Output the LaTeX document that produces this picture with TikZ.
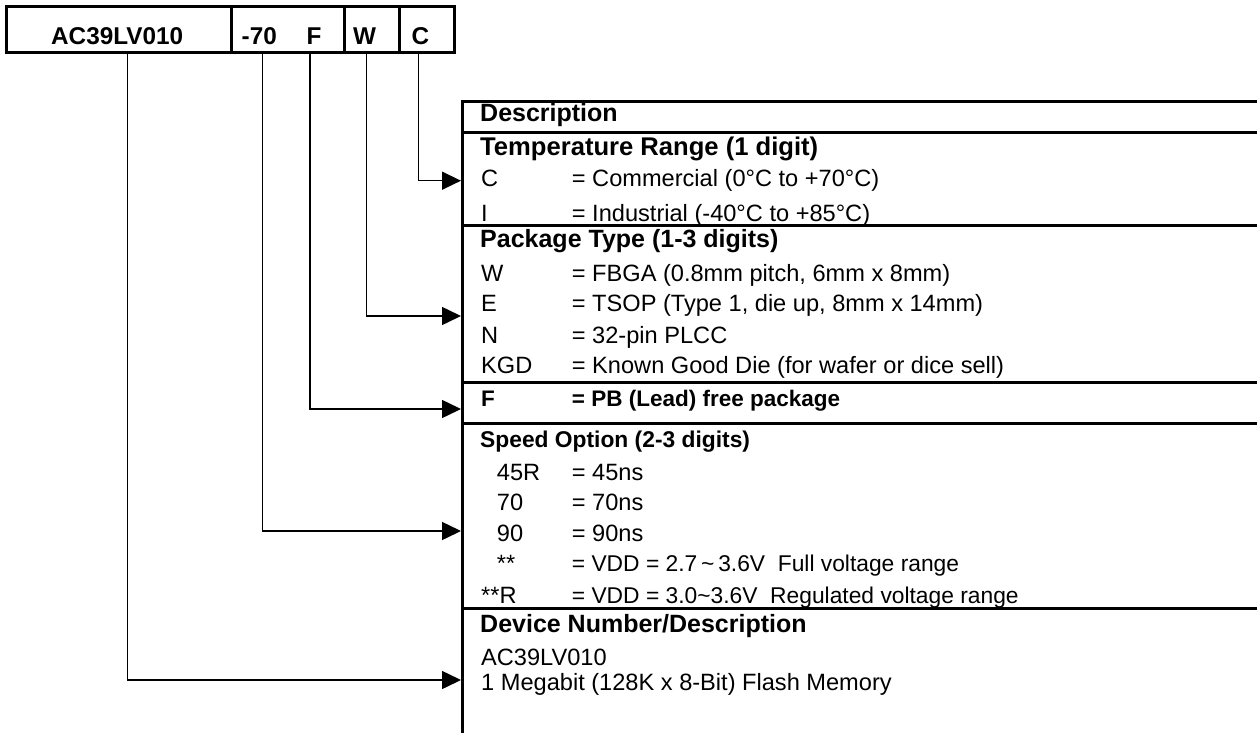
\documentclass[tikz,border=0pt]{standalone}
\usepackage{fontspec}
\setmainfont{Liberation Sans}
\usetikzlibrary{arrows.meta}
\newcommand\myreg{\fontsize{23.6}{28}\selectfont}
\newcommand\myregs{\fontsize{22.8}{27}\selectfont}
\newcommand\myhead{\fontsize{25}{30}\selectfont\bfseries}
\newcommand\myspeed{\fontsize{22.8}{27}\selectfont\bfseries}
\newcommand\mybrow{\fontsize{22.5}{27}\selectfont\bfseries}
\newcommand\mytop{\fontsize{24.3}{29}\selectfont\bfseries}
\begin{document}
\begin{tikzpicture}[x=1pt,y=-1pt,
  cell/.style={draw, line width=3pt, minimum height=46pt, inner sep=0pt, anchor=north west},
  tl/.style={anchor=base west, inner sep=0pt, font=\myreg},
  hd/.style={anchor=base west, inner sep=0pt, font=\myhead},
  rule/.style={line width=3pt},
  conn/.style={line width=1.5pt, -{Triangle[length=19pt,width=18pt]}}]
\useasboundingbox (0,0) rectangle (1257,733);

% top part-number box
\node[cell, minimum width=225pt] (cellA) at (5,5) {};
\node[cell, minimum width=113pt] (cellB) at (230,5) {};
\node[cell, minimum width=55pt] (cellC) at (343,5) {};
\node[cell, minimum width=55pt] (cellD) at (398,5) {};
\node[anchor=base west, inner sep=0pt, font=\mytop] (tAC) at (51,45) {AC39LV010};
\node[anchor=base west, inner sep=0pt, font=\mytop] (t70) at (241.5,45) {-70};
\node[anchor=base west, inner sep=0pt, font=\mytop] (tF) at (306.5,45) {F};
\node[anchor=base west, inner sep=0pt, font=\mytop] (tW) at (353,45) {W};
\node[anchor=base west, inner sep=0pt, font=\mytop] (tC) at (411.5,45) {C};

% table rules
\draw[rule] (462.7,100.2) -- (462.7,733);
\draw[rule] (461.2,101.7) -- (1257,101.7);
\draw[rule] (461.2,132.5) -- (1257,132.5);
\draw[rule] (461.2,225.7) -- (1257,225.7);
\draw[rule] (461.2,382.8) -- (1257,382.8);
\draw[rule] (461.2,423) -- (1257,423);
\draw[rule] (461.2,608.2) -- (1257,608.2);

% texts
\node[hd] (hDesc) at (480,121.7) {Description};
\node[hd, font=\fontsize{25.6}{30}\selectfont\bfseries] (hTemp) at (480,155) {Temperature Range (1 digit)};
\node[tl] (kC) at (481,186.7) {C};
\node[tl] (vC) at (571.7,186.7) {= Commercial (0°C to +70°C)};
\node[tl] (kI) at (481,221.5) {I};
\node[tl] (vI) at (571.7,221.5) {= Industrial (-40°C to +85°C)};
\node[hd] (hPkg) at (480,247.3) {Package Type (1-3 digits)};
\node[tl] (kW) at (481,281.7) {W};
\node[tl] (vW) at (571.7,281.7) {= FBGA (0.8mm pitch, 6mm x 8mm)};
\node[tl] (kE) at (481,311.7) {E};
\node[tl] (vE) at (571.7,311.7) {= TSOP (Type 1, die up, 8mm x 14mm)};
\node[tl] (kN) at (481,343.3) {N};
\node[tl] (vN) at (571.7,343.3) {= 32-pin PLCC};
\node[tl] (kK) at (481,373.3) {KGD};
\node[tl] (vK) at (571.7,373.3) {= Known Good Die (for wafer or dice sell)};
\node[anchor=base west, inner sep=0pt, font=\mybrow] (kF) at (481,406.7) {F};
\node[anchor=base west, inner sep=0pt, font=\mybrow] (vF) at (571.7,406.7) {= PB (Lead) free package};
\node[anchor=base west, inner sep=0pt, font=\myspeed] (hSpd) at (480,447.7) {Speed Option (2-3 digits)};
\node[tl] (k45) at (496.7,480) {45R};
\node[tl] (v45) at (571.7,480) {= 45ns};
\node[tl] (k70) at (496.7,510) {70};
\node[tl] (v70) at (571.7,510) {= 70ns};
\node[tl] (k90) at (496.7,541.7) {90};
\node[tl] (v90) at (571.7,541.7) {= 90ns};
\node[tl] (kS) at (496.7,571.7) {**};
\node[tl, font=\myregs] (vS) at (571.7,571.7) {= VDD = 2.7\,\textasciitilde\,3.6V\ \ Full voltage range};
\node[tl] (kSR) at (481,603.3) {**R};
\node[tl, font=\myregs] (vSR) at (571.7,603.3) {= VDD = 3.0\textasciitilde3.6V\ \ Regulated voltage range};
\node[hd] (hDev) at (480,632) {Device Number/Description};
\node[tl] (dNum) at (481,665) {AC39LV010};
\node[tl] (dTxt) at (481,690) {1 Megabit (128K x 8-Bit) Flash Memory};

% connector ends
\coordinate (sAC) at (127.7,51);
\coordinate (s70) at (262.3,51);
\coordinate (sF) at (310,51);
\coordinate (sW) at (366.7,51);
\coordinate (sC) at (418.3,51);
\coordinate (eC) at (461,180.7);
\coordinate (eW) at (461,316);
\coordinate (eF) at (461,409);
\coordinate (e70) at (461,531);
\coordinate (eAC) at (461,680);

\draw[conn] (sC) |- (eC);
\draw[conn] (sW) |- (eW);
\draw[conn] (sF) |- (eF);
\draw[conn] (s70) |- (e70);
\draw[conn] (sAC) |- (eAC);
\end{tikzpicture}
\end{document}
